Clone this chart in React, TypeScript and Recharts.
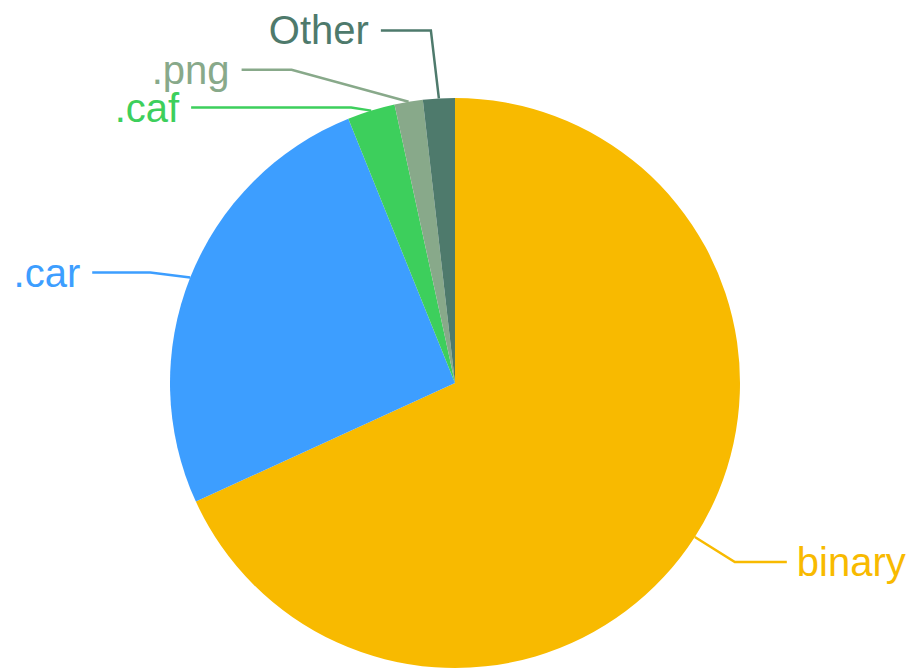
import React from 'react';
import { PieChart, Pie, Cell } from 'recharts';

const categories = ['binary', '.car', '.caf', '.png', 'Other'];
const values = [68.1, 25.7, 2.7, 1.6, 1.8];
const colors = ['#F8BA00', '#3D9EFF', '#3DCF5C', '#88A98A', '#4E7A6C'];

// leader line layout offsets relative to slice edge point: [elbowDx, elbowDy, endDx, endDy]
const labelOffsets: number[][] = [
  [40, 25, 92, 25],
  [-40, -5, -98, -5],
  [-20, -3, -180, -3],
  [-117, -32, -167, -32],
  [-8, -68, -58, -68],
];

const data = categories.map((name, i) => ({ name, value: values[i] }));

const RAD = Math.PI / 180;

const renderLabel = (props: any) => {
  const { cx, cy, midAngle, outerRadius, index } = props;
  const x0 = cx + outerRadius * Math.cos(-midAngle * RAD);
  const y0 = cy + outerRadius * Math.sin(-midAngle * RAD);
  const [ex, ey, fx, fy] = labelOffsets[index];
  const x1 = x0 + ex;
  const y1 = y0 + ey;
  const x2 = x0 + fx;
  const y2 = y0 + fy;
  const right = fx > 0;
  const color = colors[index];
  return (
    <g key={`lbl-${index}`}>
      <polyline
        points={`${x0},${y0} ${x1},${y1} ${x2},${y2}`}
        fill="none"
        stroke={color}
        strokeWidth={2.5}
      />
      <text
        x={right ? x2 + 10 : x2 - 12}
        y={y2}
        fill={color}
        textAnchor={right ? 'start' : 'end'}
        dominantBaseline="central"
        fontSize={40}
        fontFamily="Liberation Sans, Arial, sans-serif"
      >
        {categories[index]}
      </text>
    </g>
  );
};

export default function App() {
  return (
    <div style={{ position: 'absolute', left: 0, top: 0, background: '#fff' }}>
      <PieChart width={916} height={669} margin={{ top: 0, right: 0, bottom: 0, left: 0 }}>
        <Pie
          data={data}
          dataKey="value"
          nameKey="name"
          cx={455}
          cy={383}
          innerRadius={0}
          outerRadius={285}
          startAngle={90}
          endAngle={-270}
          stroke="none"
          isAnimationActive={false}
          label={renderLabel}
          labelLine={false}
        >
          {data.map((d, i) => (
            <Cell key={d.name} fill={colors[i]} />
          ))}
        </Pie>
      </PieChart>
    </div>
  );
}
